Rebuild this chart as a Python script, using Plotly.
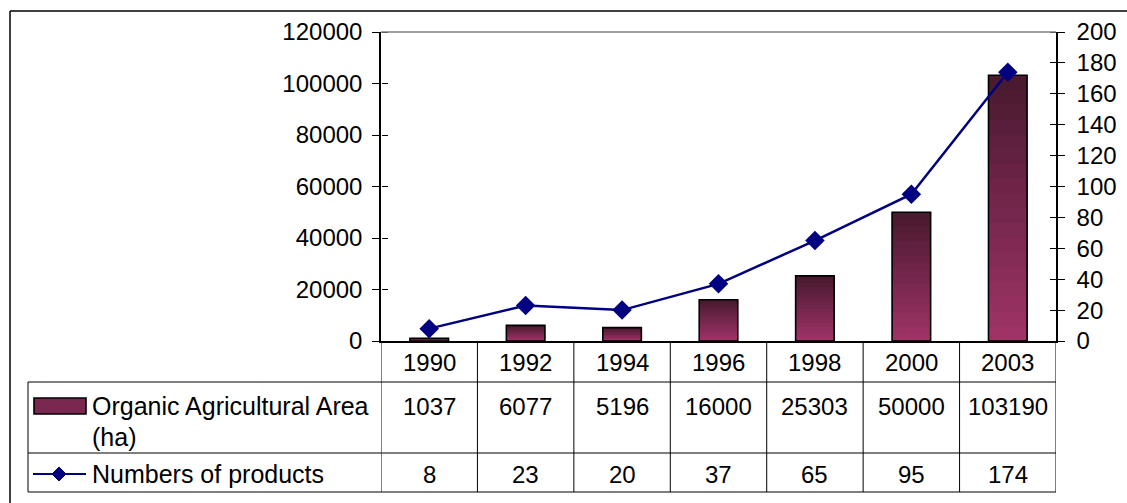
import plotly.graph_objects as go

# ---- data ----
years = ["1990", "1992", "1994", "1996", "1998", "2000", "2003"]
area_ha = [1037, 6077, 5196, 16000, 25303, 50000, 103190]
products = [8, 23, 20, 37, 65, 95, 174]
area_name = "Organic Agricultural Area"
area_unit = "(ha)"
products_name = "Numbers of products"
left_ticks = [0, 20000, 40000, 60000, 80000, 100000, 120000]
right_ticks = [0, 20, 40, 60, 80, 100, 120, 140, 160, 180, 200]

W, H = 1127, 503
FONT = "Liberation Sans, Arial, sans-serif"
FS = 25
TFS = 24

def px(x):
    return x / W

def py(y):
    return 1 - y / H

PL, PR, PT, PB = 381, 1056, 32, 341  # plot area pixels

top_col = (0x4a, 0x1a, 0x30)
bot_col = (0x9e, 0x33, 0x66)

def mix(t):
    return "rgb(%d,%d,%d)" % tuple(round(a + (b - a) * t) for a, b in zip(top_col, bot_col))

fig = go.Figure()

# gradient bars: overlaid fractions, darker at the top, lighter at the bottom
N = 18
for k in range(N):
    frac = 1 - k / N
    fig.add_trace(go.Bar(
        x=years, y=[v * frac for v in area_ha], width=0.4,
        marker=dict(color=mix(k / (N - 1)), line=dict(width=0)),
        showlegend=False, hoverinfo="skip", yaxis="y"))
# outline on top
fig.add_trace(go.Bar(
    x=years, y=area_ha, width=0.4, name=area_name + " " + area_unit,
    marker=dict(color="rgba(0,0,0,0)", line=dict(color="black", width=1.6)),
    showlegend=False, yaxis="y"))

# invisible helper traces so the inner tick axes get drawn
fig.add_trace(go.Scatter(x=[years[0]], y=[0], mode="markers", marker=dict(opacity=0),
                         yaxis="y3", showlegend=False, hoverinfo="skip"))
fig.add_trace(go.Scatter(x=[years[0]], y=[0], mode="markers", marker=dict(opacity=0),
                         yaxis="y4", showlegend=False, hoverinfo="skip"))

fig.add_trace(go.Scatter(
    x=years, y=products, mode="lines+markers", name=products_name,
    line=dict(color="#000080", width=2.5),
    marker=dict(symbol="diamond", size=15, color="#000080"),
    showlegend=False, yaxis="y2"))

dom_x = [px(PL), px(PR)]
dom_y = [py(PB), py(PT)]
tickfont = dict(family=FONT, size=TFS, color="black")

fig.update_layout(
    width=W, height=H, autosize=False,
    margin=dict(l=0, r=0, t=0, b=0, pad=0, autoexpand=False),
    showlegend=False,
    paper_bgcolor="white", plot_bgcolor="white",
    barmode="overlay",
    font=dict(family=FONT, size=FS, color="black"),
    xaxis=dict(domain=dom_x, type="category", range=[-0.5, 6.5], automargin=False,
               showticklabels=False, ticks="", showgrid=False, zeroline=False,
               showline=True, linecolor="black", linewidth=1.5),
    yaxis=dict(domain=dom_y, range=[0, 120000], tickvals=left_ticks, tickformat="d",
               ticks="outside", ticklen=7, tickcolor="black", tickwidth=1,
               showline=True, linecolor="black", linewidth=1.5, automargin=False,
               showgrid=False, zeroline=False, tickfont=tickfont,
               ticklabelstandoff=5),
    yaxis2=dict(domain=dom_y, range=[0, 200], tickvals=right_ticks, tickformat="d",
                overlaying="y", side="right", anchor="x", automargin=False,
                ticks="outside", ticklen=7, tickcolor="black", tickwidth=1,
                showline=True, linecolor="black", linewidth=1.5,
                showgrid=False, zeroline=False, tickfont=tickfont,
                ticklabelstandoff=7),
    # inner halves of the crossing ticks
    yaxis3=dict(domain=dom_y, range=[0, 120000], tickvals=left_ticks,
                overlaying="y", side="right", anchor="free", position=px(PL),
                automargin=False, ticks="outside", ticklen=6, tickcolor="black",
                tickwidth=1, showticklabels=False, showgrid=False, zeroline=False,
                showline=False),
    yaxis4=dict(domain=dom_y, range=[0, 200], tickvals=right_ticks,
                overlaying="y", side="left", anchor="free", position=px(PR),
                automargin=False, ticks="outside", ticklen=6, tickcolor="black",
                tickwidth=1, showticklabels=False, showgrid=False, zeroline=False,
                showline=False),
)

shapes = []
# outer chart border
shapes.append(dict(type="line", xref="paper", yref="paper", x0=px(10), x1=1.01,
                   y0=py(11), y1=py(11), line=dict(color="black", width=1.5)))
shapes.append(dict(type="line", xref="paper", yref="paper", x0=px(10), x1=px(10),
                   y0=py(11), y1=-0.01, line=dict(color="black", width=1.5)))
# plot area top border
shapes.append(dict(type="line", xref="paper", yref="paper", x0=px(PL), x1=px(PR),
                   y0=py(PT), y1=py(PT), line=dict(color="#808080", width=1.5)))
# table horizontal lines
for yy in (382, 453, 492):
    shapes.append(dict(type="line", xref="paper", yref="paper", x0=px(28), x1=px(PR),
                       y0=py(yy), y1=py(yy), line=dict(color="black", width=1)))
shapes.append(dict(type="line", xref="paper", yref="paper", x0=px(28), x1=px(28),
                   y0=py(382), y1=py(492), line=dict(color="black", width=1)))
# table column lines (category boundaries)
for k in range(len(years) + 1):
    shapes.append(dict(type="line", xref="x", yref="paper", x0=k - 0.5, x1=k - 0.5,
                       y0=py(PB), y1=py(492), line=dict(color="black", width=1)))
# legend keys in the table
shapes.append(dict(type="rect", xref="paper", yref="paper", x0=px(34), x1=px(86),
                   y0=py(414), y1=py(398), fillcolor="#7a2850",
                   line=dict(color="black", width=1.6)))
shapes.append(dict(type="line", xref="paper", yref="paper", x0=px(33), x1=px(86),
                   y0=py(474), y1=py(474), line=dict(color="#000080", width=1.8)))
cx, cy, r = 59, 474, 7
shapes.append(dict(type="path", xref="paper", yref="paper",
                   path="M %f %f L %f %f L %f %f L %f %f Z" % (
                       px(cx), py(cy - r), px(cx + r), py(cy), px(cx), py(cy + r), px(cx - r), py(cy)),
                   fillcolor="#000080", line=dict(color="#000080", width=1)))
fig.update_layout(shapes=shapes)

ann = []
for i, yr in enumerate(years):
    ann.append(dict(x=i, xref="x", y=py(362), yref="paper", text=yr, showarrow=False,
                    xanchor="center", yanchor="middle", font=dict(size=TFS)))
    ann.append(dict(x=i, xref="x", y=py(406), yref="paper", text=str(area_ha[i]),
                    showarrow=False, xanchor="center", yanchor="middle", font=dict(size=TFS)))
    ann.append(dict(x=i, xref="x", y=py(474), yref="paper", text=str(products[i]),
                    showarrow=False, xanchor="center", yanchor="middle", font=dict(size=TFS)))
ann.append(dict(x=px(90), xref="paper", y=py(406), yref="paper", text=area_name,
                showarrow=False, xanchor="left", yanchor="middle", font=dict(size=FS)))
ann.append(dict(x=px(90), xref="paper", y=py(437), yref="paper", text=area_unit,
                showarrow=False, xanchor="left", yanchor="middle", font=dict(size=FS)))
ann.append(dict(x=px(90), xref="paper", y=py(474), yref="paper", text=products_name,
                showarrow=False, xanchor="left", yanchor="middle", font=dict(size=FS)))
fig.update_layout(annotations=ann)

fig.write_html("out.html", config={"displayModeBar": False},
               post_script="document.body.style.margin='0';")
